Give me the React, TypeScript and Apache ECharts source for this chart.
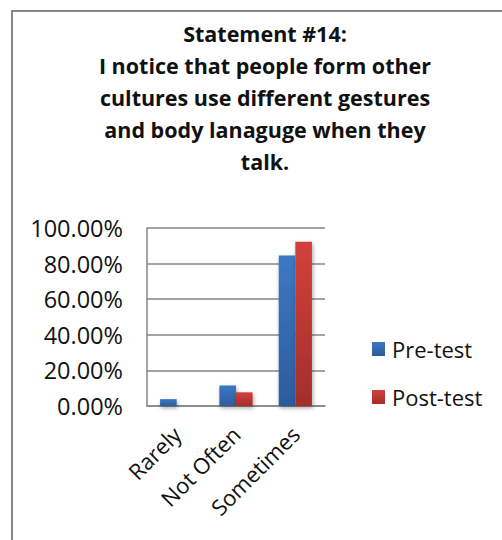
import React, { useEffect, useRef } from "react";
import * as echarts from "echarts";

const categories = ["Rarely", "Not Often", "Sometimes"];
const preTest = [0.0385, 0.1154, 0.8462];
const postTest = [0, 0.0769, 0.9231];
const seriesNames = ["Pre-test", "Post-test"];
const titleLines = [
  "Statement #14:",
  "I notice that people form other",
  "cultures use different gestures",
  "and body lanaguge when they",
  "talk.",
];

const FONT = "'Open Sans', sans-serif";

export default function App() {
  const ref = useRef<HTMLDivElement>(null);

  useEffect(() => {
    if (!ref.current) return;
    const chart = echarts.init(ref.current, null, { renderer: "svg" });

    const grad = (top: string, bottom: string) =>
      new echarts.graphic.LinearGradient(0, 0, 0, 1, [
        { offset: 0, color: top },
        { offset: 1, color: bottom },
      ]);

    const barShadow = {
      shadowColor: "rgba(0,0,0,0.35)",
      shadowBlur: 4,
      shadowOffsetX: 1,
      shadowOffsetY: 2,
    };

    chart.setOption({
      animation: false,
      backgroundColor: "#ffffff",
      title: {
        text: titleLines.join("\n"),
        left: 260,
        top: 12,
        textAlign: "center",
        textStyle: {
          fontFamily: FONT,
          fontSize: 21.5,
          fontWeight: "bold",
          color: "#111",
          lineHeight: 32,
        },
      },
      graphic: [
        {
          type: "rect",
          shape: { x: 12, y: 11, width: 520, height: 560 },
          style: { fill: "none", stroke: "#878787", lineWidth: 2 },
          silent: true,
        },
      ],
      legend: {
        orient: "vertical",
        left: 367,
        top: 333,
        itemWidth: 13,
        itemHeight: 14,
        itemGap: 26,
        icon: "rect",
        textStyle: { fontFamily: FONT, fontSize: 22, color: "#111", padding: [0, 0, 0, 2] },
        data: seriesNames,
      },
      grid: { left: 147, top: 228, width: 178, height: 178, containLabel: false },
      xAxis: {
        type: "category",
        data: categories,
        axisLine: { show: true, lineStyle: { color: "#868686", width: 1.5 } },
        axisTick: { show: false },
        axisLabel: {
          rotate: 45,
          margin: 24,
          interval: 0,
          fontFamily: FONT,
          fontSize: 22,
          color: "#111",
        },
      },
      yAxis: {
        type: "value",
        min: 0,
        max: 1,
        interval: 0.2,
        axisLine: { show: true, lineStyle: { color: "#868686", width: 1.5 } },
        axisTick: { show: false },
        splitLine: { show: true, lineStyle: { color: "#868686", width: 1.5 } },
        axisLabel: {
          margin: 24,
          fontFamily: FONT,
          fontSize: 23.5,
          color: "#111",
          formatter: (v: number) => (v * 100).toFixed(2) + "%",
        },
      },
      series: [
        {
          name: seriesNames[0],
          type: "bar",
          data: preTest,
          barGap: "0%",
          barCategoryGap: "44%",
          itemStyle: { color: grad("#3d78c4", "#2c5c9c"), ...barShadow },
        },
        {
          name: seriesNames[1],
          type: "bar",
          data: postTest,
          barGap: "0%",
          barCategoryGap: "44%",
          itemStyle: { color: grad("#d2413b", "#a32e2b"), ...barShadow },
        },
      ],
    });

    return () => chart.dispose();
  }, []);

  return (
    <div
      ref={ref}
      style={{ position: "fixed", left: 0, top: 0, width: 502, height: 540 }}
    />
  );
}
